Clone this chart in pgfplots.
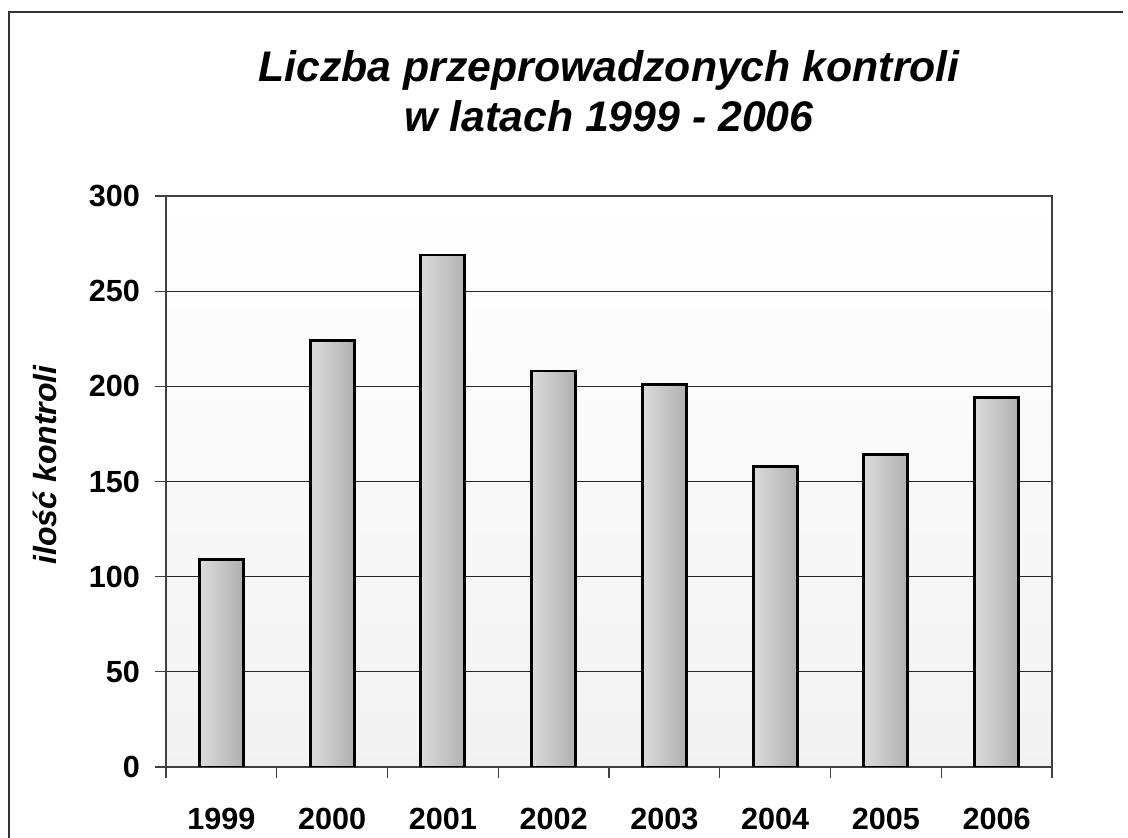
\documentclass[border=0pt]{standalone}
\usepackage{fontspec}
\setmainfont{Liberation Sans}
\usepackage{pgfplots}
\pgfplotsset{compat=1.18}
\pgfplotsset{mybar/.style={ybar, bar width=22pt, bar shift=0pt, draw=black, line width=1.4pt, left color=black!14, right color=black!31}}
\begin{document}
\begin{tikzpicture}[x=0.5pt,y=0.5pt]
\path[use as bounding box] (0,0) rectangle (1128,838);
\draw[line width=1pt, black!80] (9,0) -- (9,826) -- (1123,826);
\node[anchor=base, font=\fontsize{21.4}{25}\selectfont\bfseries\itshape] at (609,756) {Liczba przeprowadzonych kontroli};
\node[anchor=base, font=\fontsize{21.4}{25}\selectfont\bfseries\itshape] at (609,706) {w latach 1999 - 2006};
\node[rotate=90, font=\fontsize{16}{19}\selectfont\bfseries\itshape] at (45,373) {ilość kontroli};
\begin{axis}[
  at={(83pt,35.5pt)}, anchor=south west,
  scale only axis, width=443pt, height=285.5pt,
  xmin=-0.5, xmax=7.5, ymin=0, ymax=300,
  axis background/.style={top color=white, bottom color=black!5},
  axis line style={black!75, line width=0.8pt},
  xtick={-0.5,0.5,...,7.5}, xticklabels={},
  extra x ticks={0,1,2,3,4,5,6,7},
  extra x tick labels={1999,2000,2001,2002,2003,2004,2005,2006},
  extra x tick style={major tick length=0pt, grid=none},
  ytick={0,50,...,300},
  tick align=outside, tick pos=left,
  major tick length=5.5pt,
  tick style={black!75, line width=0.6pt},
  ymajorgrids, grid style={black!85, line width=0.5pt},
  /pgf/number format/assume math mode=true,
  ticklabel style={font=\fontsize{15.3}{18}\selectfont\bfseries},
  xticklabel style={yshift=-17pt},
  yticklabel style={xshift=-4pt},
]
\addplot[mybar] coordinates {(0,109)};
\addplot[mybar] coordinates {(1,224)};
\addplot[mybar] coordinates {(2,269)};
\addplot[mybar] coordinates {(3,208)};
\addplot[mybar] coordinates {(4,201)};
\addplot[mybar] coordinates {(5,158)};
\addplot[mybar] coordinates {(6,164)};
\addplot[mybar] coordinates {(7,194)};
\end{axis}
\end{tikzpicture}
\end{document}
